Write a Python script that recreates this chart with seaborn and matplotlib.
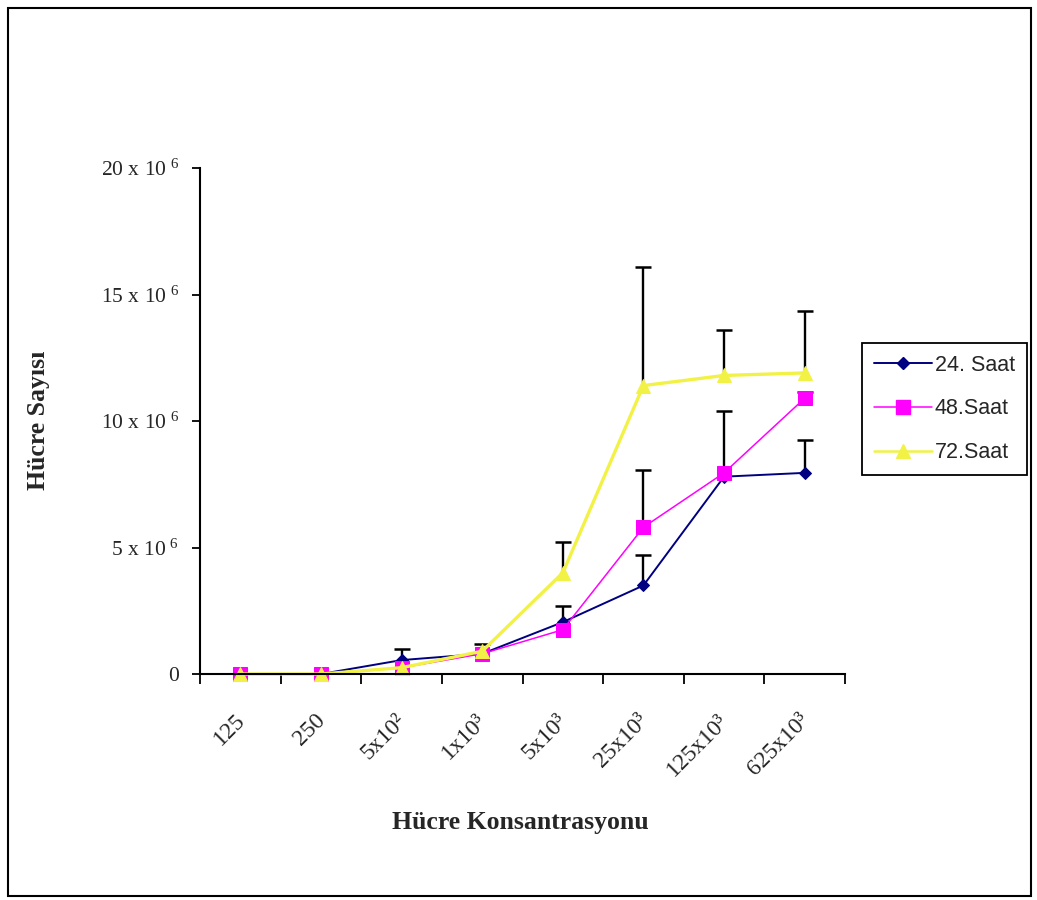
import numpy as np
import pandas as pd
import matplotlib
matplotlib.use("Agg")
import matplotlib.pyplot as plt
import matplotlib.transforms as mtransforms
from matplotlib.lines import Line2D
from matplotlib.patches import Rectangle
import seaborn as sns

# Cell concentration categories (x axis)
concentrations = ["125", "250", "5x10²", "1x10³", "5x10³", "25x10³", "125x10³", "625x10³"]

# Mean cell counts (x 10^6)
saat24 = [0.0, 0.0, 0.55, 0.8, 2.05, 3.5, 7.8, 7.95]
saat48 = [0.0, 0.0, 0.25, 0.8, 1.75, 5.8, 7.95, 10.9]
saat72 = [0.0, 0.0, 0.25, 0.9, 4.0, 11.4, 11.8, 11.9]

# Upper error (x 10^6)
err24 = [0.0, 0.0, 0.45, 0.4, 0.65, 1.2, 0.0, 1.3]
err48 = [0.0, 0.0, 0.0, 0.0, 0.0, 2.25, 2.45, 0.25]
err72 = [0.0, 0.0, 0.0, 0.0, 1.2, 4.7, 1.8, 2.45]

series_names = ["24. Saat", "48.Saat", "72.Saat"]
y_ticks = [0, 5, 10, 15, 20]
y_tick_labels = ["0", "5 x 10$^{\\ 6}$", "10 x 10$^{\\ 6}$", "15 x 10$^{\\ 6}$", "20 x 10$^{\\ 6}$"]

sns.set_theme(style="white")
plt.rcParams["font.family"] = ["Liberation Serif", "DejaVu Serif"]
plt.rcParams["mathtext.default"] = "regular"

fig = plt.figure(figsize=(10.37, 9.0), dpi=100)
ax = fig.add_axes([200 / 1037, 1 - 674 / 900, 645 / 1037, 506 / 900])

pos = np.arange(len(concentrations))
styles = [
    dict(values=saat24, errs=err24, color="#000080", marker="D", ms=6.5, lw=1.4),
    dict(values=saat48, errs=err48, color="#FF00FF", marker="s", ms=10, lw=1.1),
    dict(values=saat72, errs=err72, color="#F2F246", marker="^", ms=10, lw=2.4),
]

frames = []
for name, st in zip(series_names, styles):
    frames.append(pd.DataFrame({"pos": pos, "value": st["values"], "series": name}))
df = pd.concat(frames, ignore_index=True)

# upper-only error bars: stem from the mean up, with a cap at the top
for st in styles:
    e = np.array(st["errs"])
    v = np.array(st["values"])
    m = e > 0
    ax.vlines(pos[m], v[m], v[m] + e[m], color="black", linewidth=1.7, zorder=1.5)
    ax.plot(pos[m], v[m] + e[m], linestyle="none", marker="_", markersize=11,
            markeredgewidth=1.8, color="black", zorder=1.5)

handles = []
for name, st in zip(series_names, styles):
    sub = df[df["series"] == name]
    sns.lineplot(data=sub, x="pos", y="value", ax=ax, color=st["color"],
                 marker=st["marker"], markersize=st["ms"], markeredgecolor=st["color"],
                 linewidth=st["lw"], legend=False, clip_on=False, zorder=2)
    handles.append(Line2D([], [], color=st["color"], marker=st["marker"],
                          markersize=st["ms"], markeredgecolor=st["color"],
                          linewidth=st["lw"] if st["lw"] < 2 else 1.8, label=name))

ax.set_xlim(-0.5, len(concentrations) - 0.5)
ax.set_ylim(0, 20)

# spines
for s in ["top", "right"]:
    ax.spines[s].set_visible(False)
for s in ["left", "bottom"]:
    ax.spines[s].set_color("black")
    ax.spines[s].set_linewidth(1.5)

# y ticks
ax.set_yticks(y_ticks)
ax.set_yticklabels(y_tick_labels, fontsize=15.5)
ax.tick_params(axis="y", direction="out", length=6, width=1.3, color="black", pad=9, left=True)

# x ticks: labels at category centres, tick marks at boundaries
ax.set_xticks(pos)
ax.set_xticklabels(concentrations, fontsize=17, rotation=45, ha="right", va="top",
                   rotation_mode="anchor")
ax.tick_params(axis="x", which="major", length=0, pad=26, bottom=True)
ax.set_xticks(np.arange(-0.5, len(concentrations)), minor=True)
ax.tick_params(axis="x", which="minor", direction="out", length=7, width=1.3,
               color="black", bottom=True)
offset = mtransforms.ScaledTranslation(-6 / 100, 0, fig.dpi_scale_trans)
for lbl in ax.get_xticklabels():
    lbl.set_transform(lbl.get_transform() + offset)

ax.set_xlabel("Hücre Konsantrasyonu", fontsize=18.5, fontweight="bold")
ax.set_ylabel("Hücre Sayısı", fontsize=18.5, fontweight="bold")
ax.xaxis.set_label_coords(0.496, -0.2708)
ax.yaxis.set_label_coords(-0.2326, 0.502)

leg = ax.legend(handles=handles, loc="upper left",
                bbox_to_anchor=(862 / 1037, 1 - 343 / 900), bbox_transform=fig.transFigure,
                prop={"family": "Liberation Sans", "size": 15.5},
                frameon=True, fancybox=False, edgecolor="black", framealpha=1,
                handlelength=2.7, handletextpad=0.12, labelspacing=1.05,
                borderpad=0.55, borderaxespad=0, numpoints=1)
leg.get_frame().set_linewidth(1.3)

# outer frame around the whole figure
fig.patches.append(Rectangle((8 / 1037, 4 / 900), 1023 / 1037, 888 / 900,
                             transform=fig.transFigure, fill=False,
                             edgecolor="black", linewidth=1.5))

fig.savefig("out.png", dpi=100, facecolor="white")
